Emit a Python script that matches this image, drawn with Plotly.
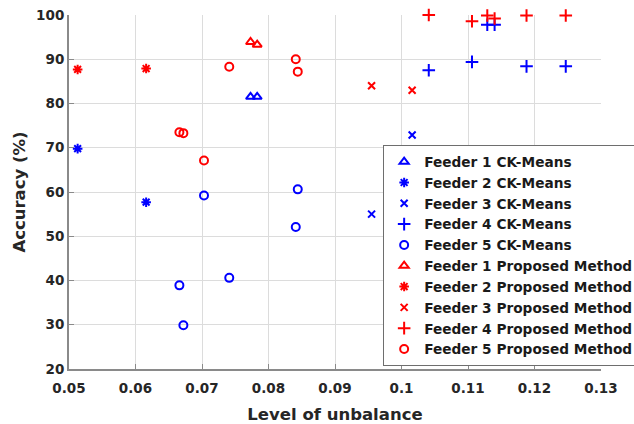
import plotly.graph_objects as go

# ---- data ----
f1_x = [0.0773, 0.0783]
f1_ck = [81.5, 81.5]
f1_prop = [93.9, 93.3]

f2_x = [0.0513, 0.0616]
f2_ck = [69.8, 57.7]
f2_prop = [87.7, 87.9]

f3_x = [0.0955, 0.1016]
f3_ck = [55.0, 72.9]
f3_prop = [84.0, 83.0]

f4_x = [0.1041, 0.1106, 0.1129, 0.1140, 0.1188, 0.1247]
f4_ck = [87.5, 89.4, 97.8, 97.8, 88.4, 88.4]
f4_prop = [100.0, 98.6, 99.9, 99.2, 99.9, 99.9]

f5_x = [0.0666, 0.0672, 0.0703, 0.0741, 0.0841, 0.0844]
f5_ck = [38.9, 29.9, 59.2, 40.6, 52.1, 60.6]
f5_prop = [73.5, 73.3, 67.1, 88.3, 90.0, 87.2]

x_ticks = [0.05, 0.06, 0.07, 0.08, 0.09, 0.10, 0.11, 0.12, 0.13]
x_ticklabels = ["0.05", "0.06", "0.07", "0.08", "0.09", "0.1", "0.11", "0.12", "0.13"]
y_ticks = [20, 30, 40, 50, 60, 70, 80, 90, 100]

FONT = "DejaVu Sans, Liberation Sans, Arial, sans-serif"
BLUE = "#0000FF"
RED = "#FF0000"
TXT = "#262626"

feeders = [
    ("Feeder 1", f1_x, f1_ck, f1_prop, "triangle-up-open", 8),
    ("Feeder 2", f2_x, f2_ck, f2_prop, "asterisk-open", 8),
    ("Feeder 3", f3_x, f3_ck, f3_prop, "x-thin-open", 7),
    ("Feeder 4", f4_x, f4_ck, f4_prop, "cross-thin-open", 9),
    ("Feeder 5", f5_x, f5_ck, f5_prop, "circle-open", 8),
]

fig = go.Figure()
for name, xs, ck, prop, sym, sz in feeders:
    fig.add_trace(go.Scatter(
        x=xs, y=ck, mode="markers", name=f"{name} CK-Means", cliponaxis=False,
        marker=dict(symbol=sym, size=sz, color=BLUE, line=dict(color=BLUE, width=2)),
    ))
for name, xs, ck, prop, sym, sz in feeders:
    fig.add_trace(go.Scatter(
        x=xs, y=prop, mode="markers", name=f"{name} Proposed Method", cliponaxis=False,
        marker=dict(symbol=sym, size=sz, color=RED, line=dict(color=RED, width=2)),
    ))

axis_common = dict(
    showgrid=True, gridcolor="#dcdcdc", gridwidth=1,
    showline=True, linecolor="#8a8a8a", linewidth=2,
    ticks="inside", ticklen=5, tickcolor="#8a8a8a", tickwidth=1,
    zeroline=False, mirror=False, automargin=False,
    ticklabeloverflow="allow",
    tickfont=dict(family=FONT, size=13.5, color=TXT, weight="bold"),
)

fig.update_xaxes(
    range=[0.05, 0.13], tickvals=x_ticks, ticktext=x_ticklabels,
    ticklabelstandoff=6,
    title=dict(text="<b>Level of unbalance</b>", font=dict(family=FONT, size=16.5, color=TXT), standoff=13),
    **axis_common,
)
fig.update_yaxes(
    range=[20, 100], tickvals=y_ticks,
    title=dict(text="<b>Accuracy (%)</b>", font=dict(family=FONT, size=16.5, color=TXT), standoff=6),
    **axis_common,
)

fig.update_layout(
    width=634, height=424,
    margin=dict(l=69, r=33, t=15, b=55, autoexpand=False),
    plot_bgcolor="white", paper_bgcolor="white",
    font=dict(family=FONT, color=TXT),
    legend=dict(
        x=0.5905, y=0.632, xanchor="left", yanchor="top",
        bgcolor="white", bordercolor="#6e6e6e", borderwidth=1,
        font=dict(family=FONT, size=13.7, color="#1a1a1a", weight="bold"),
        tracegroupgap=0,
    ),
)

# remove the browser's default 8px page margin so the figure fills the window
fig.write_html(
    "out.html",
    config={"displayModeBar": False},
    post_script="document.body.style.margin='0';document.body.style.overflow='hidden';",
)
